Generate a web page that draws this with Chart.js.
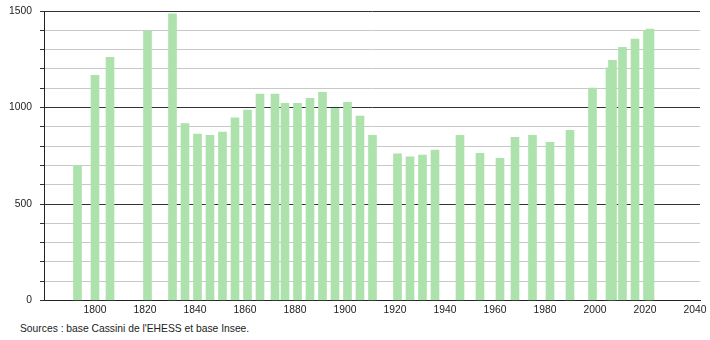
<!DOCTYPE html>
<html>
<head>
<meta charset="utf-8">
<script src="https://cdn.jsdelivr.net/npm/chart.js@4/dist/chart.umd.min.js"></script>
<style>
  html, body { margin: 0; padding: 0; background: #fff; }
  #wrap { position: relative; width: 710px; height: 340px; }
  #box { position: absolute; left: 0; top: 0; width: 710px; height: 320px; }
  #src { position: absolute; left: 20px; top: 323px; font: 10.3px "Liberation Sans", Arial, sans-serif; color: #222; white-space: nowrap; }
</style>
</head>
<body>
<div id="wrap">
  <div id="box"><canvas id="c"></canvas></div>
  <div id="src">Sources : base Cassini de l'EHESS et base Insee.</div>
</div>
<script>
const years = [1793,1800,1806,1821,1831,1836,1841,1846,1851,1856,1861,1866,1872,1876,1881,1886,1891,1896,1901,1906,1911,1921,1926,1931,1936,1946,1954,1962,1968,1975,1982,1990,1999,2006,2007,2011,2016,2021,2022];
const population = [700,1167,1260,1397,1485,917,862,856,872,946,986,1069,1069,1022,1022,1048,1079,996,1027,956,856,760,744,754,779,856,763,737,846,856,820,882,1100,1205,1245,1312,1354,1400,1406];
const xTickLabels = [1800,1820,1840,1860,1880,1900,1920,1940,1960,1980,2000,2020,2040];
const yTickLabels = [0,500,1000,1500];

const points = years.map((y, i) => ({ x: y, y: population[i] }));
const font = { family: '"Liberation Sans", Arial, sans-serif', size: 10.3 };

new Chart(document.getElementById('c'), {
  type: 'bar',
  data: {
    datasets: [{
      data: points,
      backgroundColor: '#ade2ad',
      borderWidth: 0,
      barThickness: 8
    }]
  },
  options: {
    responsive: true,
    maintainAspectRatio: false,
    animation: false,
    events: [],
    layout: { padding: { left: 0, right: 10, top: 11, bottom: 0 } },
    plugins: { legend: { display: false }, tooltip: { enabled: false } },
    scales: {
      x: {
        type: 'linear',
        min: 1779.6,
        max: 2042,
        offset: false,
        afterBuildTicks: (s) => { s.ticks = xTickLabels.map(v => ({ value: v })); },
        afterFit: (s) => { s.height = 19.5; s.paddingLeft = 0; s.paddingRight = 0; },
        grid: { display: false, drawTicks: false },
        border: { display: true, color: '#222', width: 1 },
        ticks: { font: font, color: '#222', padding: 3, maxRotation: 0, autoSkip: false,
                 callback: (v) => String(v) }
      },
      y: {
        min: 0,
        max: 1500,
        afterBuildTicks: (s) => {
          const t = [];
          for (let v = 0; v <= 1500; v += 100) t.push({ value: v });
          s.ticks = t;
        },
        afterFit: (s) => { s.width = 44; s.paddingTop = 0; s.paddingBottom = 0; },
        grid: {
          color: (ctx) => (ctx.tick && ctx.tick.value % 500 === 0) ? '#333' : '#c8c8c8',
          tickColor: '#333',
          tickLength: 4,
          lineWidth: 1
        },
        border: { display: true, color: '#222', width: 1 },
        ticks: { font: font, color: '#222', padding: 8, autoSkip: false,
                 callback: (v) => yTickLabels.includes(v) ? String(v) : '' }
      }
    }
  }
});
</script>
</body>
</html>
